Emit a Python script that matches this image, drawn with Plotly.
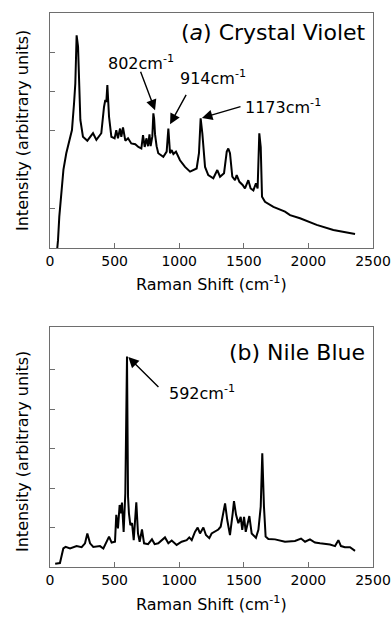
import plotly.graph_objects as go

# ---- data ----
cv_shift = [55, 62, 72, 83, 92, 104, 126, 152, 170, 186,
            196, 206, 217, 235, 255, 289, 333, 359, 397, 418,
            428, 436, 444, 457, 475, 500, 513, 526, 542, 552,
            565, 583, 604, 629, 660, 684, 707, 720, 733, 746,
            759, 770, 779, 792, 800, 806, 813, 825, 838, 877,
            903, 916, 929, 942, 955, 975, 1006, 1045, 1084, 1135,
            1153, 1166, 1179, 1200, 1225, 1264, 1295, 1316, 1347, 1368,
            1380, 1393, 1411, 1432, 1445, 1466, 1491, 1509, 1535, 1553,
            1574, 1594, 1607, 1620, 1631, 1641, 1664, 1729, 1819, 1858,
            1935, 2064, 2193, 2361]
cv_int = [-0.05, 0.2, 0.8, 1.2, 1.6, 2.0, 2.42, 2.76, 3.01, 3.69,
          4.20, 5.43, 5.14, 3.27, 2.84, 2.74, 2.93, 2.76, 2.93, 3.60,
          3.78, 3.73, 4.16, 3.35, 2.84, 2.80, 3.01, 2.80, 3.05, 2.84,
          3.08, 2.74, 2.80, 2.67, 2.65, 2.58, 2.54, 2.88, 2.58, 2.80,
          2.60, 2.90, 2.60, 2.85, 3.44, 3.30, 2.90, 2.60, 2.42, 2.33,
          2.46, 3.05, 2.42, 2.50, 2.40, 2.46, 2.24, 2.07, 1.95, 2.03,
          2.42, 3.31, 2.93, 2.07, 1.86, 1.78, 1.99, 1.82, 1.91, 2.46,
          2.54, 2.42, 1.82, 1.73, 1.86, 1.69, 1.61, 1.52, 1.73, 1.52,
          1.47, 1.65, 1.52, 2.93, 2.58, 1.31, 1.18, 1.05, 0.93, 0.84,
          0.76, 0.59, 0.46, 0.36]

nb_shift = [40, 77, 103, 121, 155, 206, 245, 271, 289, 310,
            335, 387, 413, 439, 457, 477, 503, 513, 526, 539,
            550, 557, 570, 583, 591, 596, 604, 611, 622, 635,
            648, 668, 681, 694, 712, 728, 759, 789, 810, 838,
            890, 916, 942, 980, 1019, 1058, 1078, 1097, 1122, 1143,
            1161, 1187, 1207, 1233, 1251, 1277, 1303, 1321, 1337, 1355,
            1372, 1393, 1414, 1424, 1440, 1458, 1476, 1488, 1502, 1515,
            1543, 1561, 1594, 1613, 1631, 1643, 1656, 1669, 1690, 1742,
            1819, 1896, 1943, 1974, 2012, 2051, 2090, 2128, 2167, 2206,
            2232, 2252, 2283, 2322, 2361]
nb_int = [0.08, 0.10, 0.47, 0.51, 0.47, 0.53, 0.50, 0.60, 0.85, 0.60,
          0.51, 0.53, 0.47, 0.64, 0.77, 0.62, 0.64, 1.32, 0.98, 1.57,
          1.36, 1.63, 0.89, 1.87, 5.33, 5.33, 1.78, 1.36, 1.06, 1.11,
          0.68, 1.64, 0.85, 0.64, 0.95, 0.60, 0.58, 0.70, 0.58, 0.60,
          0.75, 0.60, 0.67, 0.56, 0.64, 0.68, 0.75, 0.68, 0.89, 1.00,
          0.85, 1.00, 0.81, 0.73, 0.85, 0.89, 0.95, 1.02, 1.32, 1.61,
          1.19, 0.81, 1.36, 1.67, 1.32, 1.11, 1.27, 0.94, 1.27, 0.89,
          1.29, 0.85, 0.74, 0.94, 1.53, 2.88, 1.53, 0.77, 0.71, 0.70,
          0.64, 0.66, 0.72, 0.64, 0.70, 0.62, 0.60, 0.58, 0.57, 0.53,
          0.68, 0.53, 0.50, 0.50, 0.41]

x_ticks = [0, 500, 1000, 1500, 2000, 2500]
cv_yticks = [1, 3, 4, 5]
nb_yticks = [1, 2, 3, 4, 5]

cv_peaks = [("802", 813, 3.52, 697, 4.54), ("914", 929, 3.16, 1060, 3.95),
            ("1173", 1176, 3.32, 1486, 3.62)]
nb_peaks = [("592", 606, 5.32, 851, 4.52)]

FONT = "DejaVu Sans"
FRAME = "#6e6e6e"

fig = go.Figure()
fig.add_trace(go.Scatter(x=cv_shift, y=cv_int, mode="lines",
                         line=dict(color="black", width=2),
                         xaxis="x", yaxis="y", showlegend=False))
fig.add_trace(go.Scatter(x=nb_shift, y=nb_int, mode="lines",
                         line=dict(color="black", width=2),
                         xaxis="x2", yaxis="y2", showlegend=False))

W, H = 391, 619
xdom = [50 / W, 373 / W]

def xax(anchor):
    return dict(domain=xdom, anchor=anchor, range=[0, 2500], automargin=False,
                tickvals=x_ticks, ticks="inside", ticklen=5, tickcolor=FRAME,
                showline=True, linecolor=FRAME, linewidth=1, mirror=True,
                showgrid=False, zeroline=False,
                tickfont=dict(family=FONT, size=14, color="black"))

def yax(anchor, dom, rng, tv):
    return dict(domain=dom, anchor=anchor, range=rng, automargin=False,
                tickvals=tv, ticks="inside", ticklen=5, tickcolor=FRAME,
                showticklabels=False,
                showline=True, linecolor=FRAME, linewidth=1, mirror=True,
                showgrid=False, zeroline=False)

fig.update_layout(
    width=W, height=H,
    margin=dict(l=0, r=0, t=0, b=0, pad=0, autoexpand=False),
    paper_bgcolor="white", plot_bgcolor="white",
    font=dict(family=FONT, color="black"),
    xaxis=xax("y"),
    yaxis=yax("x", [1 - 248 / H, 1 - 13 / H], [0, 6.0], cv_yticks),
    xaxis2=xax("y2"),
    yaxis2=yax("x2", [1 - 567 / H, 1 - 327 / H], [0, 6.08], nb_yticks),
)

ann = []
# panel labels
ann.append(dict(x=2461, y=5.50, xref="x", yref="y", xanchor="right", yanchor="middle",
                text="(<i>a</i>) Crystal Violet", showarrow=False,
                font=dict(family=FONT, size=22)))
ann.append(dict(x=2453, y=5.44, xref="x2", yref="y2", xanchor="right", yanchor="middle",
                text="(b) Nile Blue", showarrow=False,
                font=dict(family=FONT, size=22)))

# arrows
for (lab, tx, ty, sx, sy) in cv_peaks:
    ann.append(dict(x=tx, y=ty, ax=sx, ay=sy, xref="x", yref="y", axref="x", ayref="y",
                    text="", showarrow=True, arrowhead=2, arrowsize=1.5, arrowwidth=1.4,
                    arrowcolor="black"))
for (lab, tx, ty, sx, sy) in nb_peaks:
    ann.append(dict(x=tx, y=ty, ax=sx, ay=sy, xref="x2", yref="y2", axref="x2", ayref="y2",
                    text="", showarrow=True, arrowhead=2, arrowsize=1.5, arrowwidth=1.4,
                    arrowcolor="black"))

# peak labels
cv_label_pos = [(433, 4.74), (991, 4.36), (1494, 3.62)]
for (lab, *_), (lx, ly) in zip(cv_peaks, cv_label_pos):
    ann.append(dict(x=lx, y=ly, xref="x", yref="y", xanchor="left", yanchor="middle",
                    text=lab + "cm<sup>-1</sup>", showarrow=False,
                    font=dict(family=FONT, size=16)))
nb_label_pos = [(906, 4.41)]
for (lab, *_), (lx, ly) in zip(nb_peaks, nb_label_pos):
    ann.append(dict(x=lx, y=ly, xref="x2", yref="y2", xanchor="left", yanchor="middle",
                    text=lab + "cm<sup>-1</sup>", showarrow=False,
                    font=dict(family=FONT, size=16)))

# axis titles
for yc in (1 - 131 / H, 1 - 452 / H):
    ann.append(dict(x=22 / W, y=yc, xref="paper", yref="paper", xanchor="center",
                    yanchor="middle", textangle=-90, showarrow=False,
                    text="Intensity (arbitrary units)", font=dict(family=FONT, size=16)))
for yc in (1 - 283 / H, 1 - 603 / H):
    ann.append(dict(x=211.5 / W, y=yc, xref="paper", yref="paper", xanchor="center",
                    yanchor="middle", showarrow=False,
                    text="Raman Shift (cm<sup>-1</sup>)", font=dict(family=FONT, size=16)))

fig.update_layout(annotations=ann)
fig.write_html("out.html",
               config={"displayModeBar": False, "staticPlot": True},
               post_script="document.body.style.margin='0px';"
                           "document.body.style.overflow='hidden';")
